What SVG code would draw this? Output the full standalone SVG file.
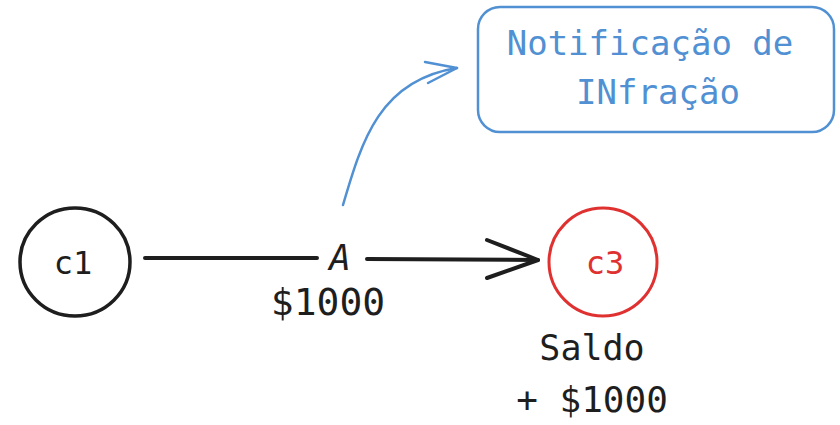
<svg xmlns="http://www.w3.org/2000/svg" width="840" height="425" viewBox="0 0 840 425">
<style>
text{font-family:"DejaVu Sans Mono","Liberation Mono",monospace;text-anchor:middle}
.blk{fill:#1e1e1e}
.blue{fill:#5090d3}
.red{fill:#e03131}
.edge{fill:none;stroke-linecap:round;stroke-linejoin:round}
</style>
<rect width="840" height="425" fill="#ffffff"/>
<g id="c1">
<ellipse cx="75" cy="262" rx="55" ry="54" fill="none" stroke="#1e1e1e" stroke-width="3.5"/>
<text class="blk" x="73" y="274" font-size="32">c1</text>
</g>
<g id="c3">
<ellipse cx="603" cy="262" rx="54" ry="54" fill="none" stroke="#e03131" stroke-width="3"/>
<text class="red" x="605" y="274" font-size="32">c3</text>
</g>
<g id="notificacao">
<rect x="478" y="7" width="356" height="125" rx="22" fill="none" stroke="#5090d3" stroke-width="2.5"/>
<text class="blue" x="650" y="55" font-size="34">Notificação de</text>
<text class="blue" x="658" y="104" font-size="34">INfração</text>
</g>
<g id="saldo">
<text class="blk" x="592" y="360" font-size="35">Saldo</text>
<text class="blk" x="592" y="412" font-size="36">+ $1000</text>
</g>
<g id="connectors">
<path class="edge" d="M145 258 L317 258 M367 259 L538 260" stroke="#1e1e1e" stroke-width="4"/>
<path class="edge" d="M487 240 L538 260 L487 278" stroke="#1e1e1e" stroke-width="4"/>
<text class="blk" x="340" y="270" font-size="36" font-style="italic">A</text>
<text class="blk" x="328" y="315" font-size="38">$1000</text>
<path class="edge" d="M343 205 C362 140 380 80 457 68" stroke="#5090d3" stroke-width="2.5"/>
<path class="edge" d="M425 62 L457 68 L428 83" stroke="#5090d3" stroke-width="2.5"/>
</g>
</svg>
